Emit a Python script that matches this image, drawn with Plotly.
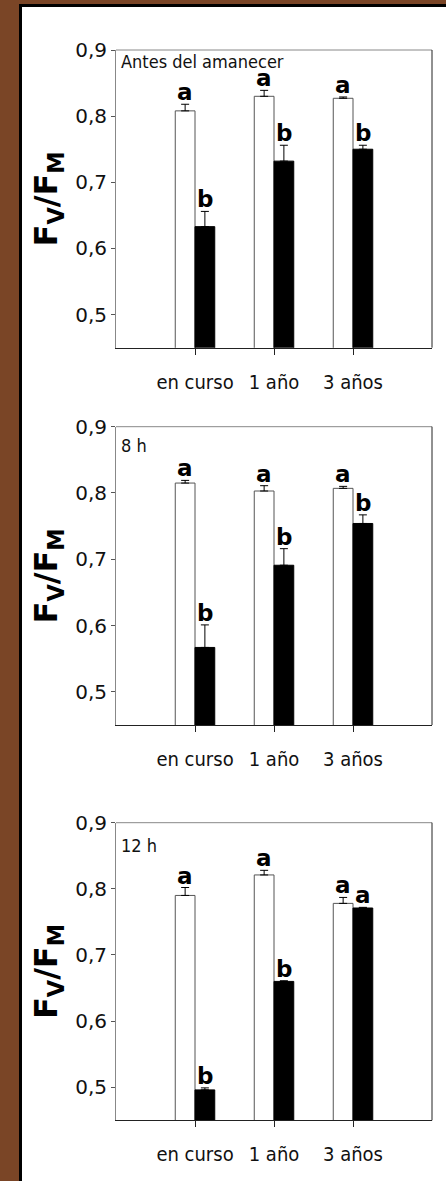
import plotly.graph_objects as go
from plotly.subplots import make_subplots

# Fv/Fm (mean + upper SE) by stage, for three sampling times
categories = ["en curso", "1 año", "3 años"]
panel_titles = ["Antes del amanecer", "8 h", "12 h"]

control_vals = [
    [0.808, 0.830, 0.827],
    [0.815, 0.803, 0.807],
    [0.790, 0.821, 0.778],
]
control_err = [
    [0.010, 0.009, 0.002],
    [0.004, 0.008, 0.003],
    [0.012, 0.007, 0.009],
]
treated_vals = [
    [0.633, 0.732, 0.750],
    [0.567, 0.691, 0.754],
    [0.496, 0.660, 0.771],
]
treated_err = [
    [0.023, 0.024, 0.006],
    [0.034, 0.025, 0.013],
    [0.003, 0.001, 0.001],
]
control_letters = [["a", "a", "a"], ["a", "a", "a"], ["a", "a", "a"]]
treated_letters = [["b", "b", "b"], ["b", "b", "b"], ["b", "b", "a"]]

W, H = 446, 1181
BROWN = "#7a4526"
TXT = "#111111"
FONT = "DejaVu Sans Condensed, DejaVu Sans"

fig = make_subplots(rows=3, cols=1)

# panel frames in pixels: (top, bottom)
frames = [(50, 347.7), (426.7, 725), (822.7, 1120.3)]
x_left, x_right = 116, 432
label_y = [0.882, 0.872, 0.866]

for i in range(3):
    r = i + 1
    fig.add_trace(go.Bar(
        x=categories, y=control_vals[i],
        marker=dict(color="white", line=dict(color="#555555", width=1)),
        error_y=dict(type="data", symmetric=False, array=control_err[i],
                     arrayminus=[0] * 3, color="black", thickness=1, width=4),
        showlegend=False, hoverinfo="skip",
    ), row=r, col=1)
    fig.add_trace(go.Bar(
        x=categories, y=treated_vals[i],
        marker=dict(color="black", line=dict(color="black", width=1)),
        error_y=dict(type="data", symmetric=False, array=treated_err[i],
                     arrayminus=[0] * 3, color="black", thickness=1, width=4),
        showlegend=False, hoverinfo="skip",
    ), row=r, col=1)

    xa = "x" if r == 1 else f"x{r}"
    ya = "y" if r == 1 else f"y{r}"

    # significance letters above each bar
    for j in range(3):
        for off, vals, errs, letters in (
            (-0.125, control_vals[i], control_err[i], control_letters[i]),
            (0.125, treated_vals[i], treated_err[i], treated_letters[i]),
        ):
            fig.add_annotation(
                x=j + off, y=vals[j] + errs[j], xref=xa, yref=ya,
                text=f"<b>{letters[j]}</b>", showarrow=False,
                yanchor="bottom", xanchor="center", yshift=-3,
                font=dict(family="DejaVu Sans", size=23, color="black"),
            )

    fig.add_annotation(
        x=0.008, xref=f"{xa} domain", y=label_y[i], yref=ya,
        text=panel_titles[i], showarrow=False, xanchor="left", yanchor="middle",
        font=dict(family=FONT, size=18, color=TXT),
    )

    # top (light) and right (dark) edges of the panel box
    fig.add_shape(type="line", xref=f"{xa} domain", yref=f"{ya} domain",
                  x0=0, x1=1, y0=1, y1=1, line=dict(color="#888888", width=1))
    fig.add_shape(type="line", xref=f"{xa} domain", yref=f"{ya} domain",
                  x0=1, x1=1, y0=0, y1=1, line=dict(color="#222222", width=1))

    top, bottom = frames[i]
    fig.update_xaxes(
        domain=[x_left / W, x_right / W], range=[-1, 3], automargin=False,
        showline=True, linecolor="#222222", linewidth=1, mirror=False,
        ticks="outside", ticklen=6, tickcolor="#222222", tickwidth=1,
        ticklabelstandoff=10, showgrid=False, zeroline=False,
        tickfont=dict(family=FONT, size=20, color=TXT),
        row=r, col=1,
    )
    fig.update_yaxes(
        domain=[1 - bottom / H, 1 - top / H], range=[0.45, 0.9], automargin=False,
        tickvals=[0.5, 0.6, 0.7, 0.8, 0.9], tickformat=".1f",
        showline=True, linecolor="#888888", linewidth=1, mirror=False,
        ticks="outside", ticklen=4, tickcolor="#555555", tickwidth=1,
        showgrid=False, zeroline=False,
        tickfont=dict(family="DejaVu Sans", size=20, color=TXT),
        title=dict(text="<b>F<sub>V</sub>/F<sub>M</sub></b>", standoff=7,
                   font=dict(family="DejaVu Sans", size=32, color="black")),
        row=r, col=1,
    )

# brown frame strips with dark inner edge
fig.add_shape(type="rect", xref="paper", yref="paper", x0=0, x1=19 / W, y0=0, y1=1,
              fillcolor=BROWN, line_width=0, layer="below")
fig.add_shape(type="rect", xref="paper", yref="paper", x0=0, x1=1, y0=1 - 4 / H, y1=1,
              fillcolor=BROWN, line_width=0, layer="below")
fig.add_shape(type="rect", xref="paper", yref="paper", x0=19 / W, x1=22 / W, y0=0, y1=1 - 4 / H,
              fillcolor="black", line_width=0, layer="below")
fig.add_shape(type="rect", xref="paper", yref="paper", x0=19 / W, x1=1, y0=1 - 7 / H, y1=1 - 4 / H,
              fillcolor="black", line_width=0, layer="below")

fig.update_layout(
    width=W, height=H, margin=dict(l=0, r=0, t=0, b=0, autoexpand=False),
    paper_bgcolor="white", plot_bgcolor="white",
    barmode="group", bargap=0.5, bargroupgap=0,
    separators=",.",
)

fig.write_html("out.html", config={"displayModeBar": False},
               post_script="document.body.style.margin='0';")
